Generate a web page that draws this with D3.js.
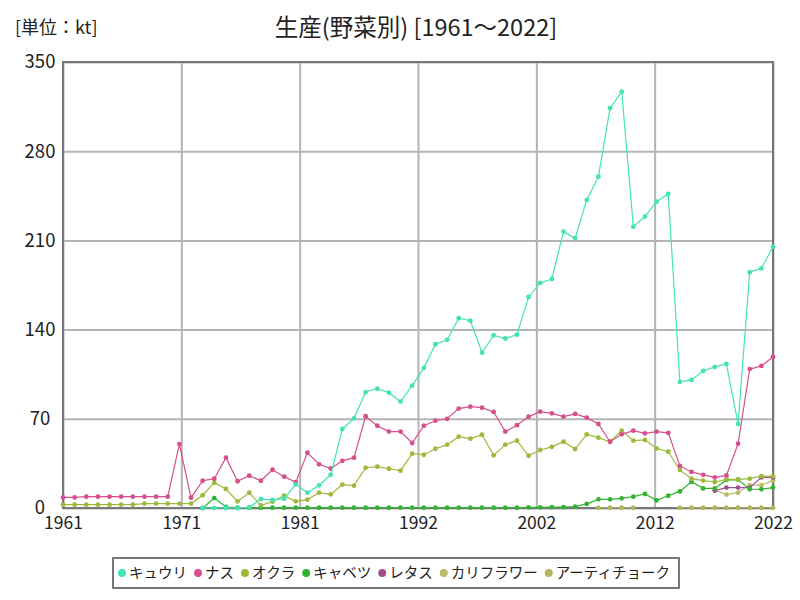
<!DOCTYPE html>
<html><head><meta charset="utf-8">
<script src="https://cdn.jsdelivr.net/npm/d3@7"></script>
<style>
html,body{margin:0;padding:0;background:#fff;}
svg{display:block;font-family:"Noto Sans CJK JP","Noto Sans",sans-serif;}
</style></head>
<body>
<svg id="chart" width="800" height="600"></svg>
<script>
const title = "生産(野菜別) [1961～2022]";
const unitLabel = "[単位：kt]";
const years = d3.range(1961, 2023);
const seriesNames = ["キュウリ","ナス","オクラ","キャベツ","レタス","カリフラワー","アーティチョーク"];
const seriesColors = ["#42e4b6","#d6508e","#9dba3c","#33b233","#a0508e","#b8be66","#b3b55e"];
const yTicks = [0,70,140,210,280,350];
const xTickCount = 6;

const N = null;
const cucumber = [N,N,N,N,N,N,N,N,N,N, N,N,0,0,0,0,0.5,7,6.3,7.3,
  18.6,12,17.8,26,62,70.4,91,93.6,90.5,83.5, 96,110,128.5,132,149,147,122,135.5,133,136,
  165.6,176.6,179.7,216.9,211.7,241.8,260,313.7,326.8,220.8, 228.7,240.4,246.5,99,100.5,107.5,110.7,113,66,185,
  188,205];
const eggplant = [8.3,8.3,8.9,8.9,8.9,8.9,8.9,8.9,8.9,8.9, 50.2,8.1,21.4,23,39.5,21,25.4,21.4,30,24.6,
  20.2,43.4,34.3,31,37,39.5,72,64.6,60,60, 51,64.6,68.5,70,78,79.5,78.7,75.4,60,65,
  71.7,75.6,74.3,71.7,73.8,70.9,66,52,57.8,60.7, 58.6,60,59,33,28.3,26,24,25.6,50.5,109,
  111.5,118.5];
const okra = [2.6,2.6,2.6,2.6,2.6,2.6,2.6,3.5,3.5,3.5, 3.5,3.5,10,19.9,14.9,5.2,12,2.1,5,9.7,
  5.2,6.5,12,10.7,18.3,17.5,31.6,32.4,30.8,29.3, 42.6,41.8,46.5,49.7,56,54.4,57.5,41.3,49.7,52.8,
  41,45.5,48,52,46.3,57.8,55.2,52,60.7,52.8, 53.4,46.8,44.2,29.8,23,21.5,20.4,22.5,22.5,23,
  25,25];
const cabbage = [N,N,N,N,N,N,N,N,N,N, N,N,0,7.8,0.8,0.3,0.3,0.3,0.3,0.3,
  0.3,0.3,0.3,0.3,0.3,0.3,0.3,0.3,0.3,0.3, 0.3,0.3,0.3,0.3,0.3,0.3,0.3,0.3,0.3,0.3,
  0.5,0.5,0.7,0.7,1.1,3.2,6.8,6.8,7.6,8.9, 11,6,9.6,13,20.6,15.4,15.4,22,22.3,14.7,
  14.7,16];
const lettuce = [N,N,N,N,N,N,N,N,N,N, N,N,N,N,N,N,N,N,N,N,
  N,N,N,N,N,N,N,N,N,N, N,N,N,N,N,N,N,N,N,N,
  N,N,N,N,N,N,N,N,N,N, N,N,N,N,N,N,13.6,16,16,16,
  24,24];
const cauliflower = [N,N,N,N,N,N,N,N,N,N, N,N,N,N,N,N,N,N,N,N,
  N,N,N,N,N,N,N,N,N,N, N,N,N,N,N,N,N,N,N,N,
  N,N,N,N,N,N,N,N,N,N, N,N,N,N,N,N,14,10.5,12,18,
  18,21.5];
const artichoke = [N,N,N,N,N,N,N,N,N,N, N,N,N,N,N,N,N,N,N,N,
  N,N,N,N,N,N,N,N,N,N, N,N,N,N,N,N,N,N,N,N,
  N,N,N,N,N,N,0.2,0.2,0.2,0.2, N,N,N,0.2,0.2,0.2,0.2,0.2,0.2,0.2,
  0.2,0.2];
const seriesValues = [cucumber,eggplant,okra,cabbage,lettuce,cauliflower,artichoke];

const svg = d3.select("#chart");
const pL = 63, pR = 773, pT = 62, pB = 508;
const x = d3.scaleLinear().domain([1961, 2022]).range([pL, pR]);
const y = d3.scaleLinear().domain([0, 350]).range([pB, pT]);
const xTickVals = d3.range(xTickCount + 1).map(i => 1961 + i * (2022 - 1961) / xTickCount);

// grid
const gx = svg.append("g").attr("transform", `translate(0,${pB})`)
  .call(d3.axisBottom(x).tickValues(xTickVals).tickSize(-(pB - pT)).tickFormat(d => Math.round(d)));
gx.select(".domain").remove();
gx.selectAll(".tick line").attr("stroke", "#b4b4b4").attr("stroke-width", 2);
gx.selectAll(".tick text").attr("font-size", 17.5).attr("fill", "#222").attr("y", 9).attr("dy", "0.71em")
  .attr("font-family", "'Noto Sans CJK JP',sans-serif");

const gy = svg.append("g").attr("transform", `translate(${pL},0)`)
  .call(d3.axisLeft(y).tickValues(yTicks).tickSize(-(pR - pL)).tickFormat(d3.format("d")));
gy.select(".domain").remove();
gy.selectAll(".tick line").attr("stroke", "#b4b4b4").attr("stroke-width", 2);
gy.selectAll(".tick text").attr("font-size", 18.5).attr("fill", "#222")
  .attr("x", 40 - pL).attr("text-anchor", "middle")
  .attr("font-family", "'Noto Sans CJK JP',sans-serif");

// frame
svg.append("rect").attr("x", pL).attr("y", pT).attr("width", pR - pL).attr("height", pB - pT)
  .attr("fill", "none").attr("stroke", "#777").attr("stroke-width", 2);

// lines
const line = d3.line().defined(d => d.v !== null).x(d => x(d.year)).y(d => y(d.v));
const plotG = svg.append("g");
for (let s = seriesNames.length - 1; s >= 0; s--) {
  const pts = years.map((yr, i) => ({year: yr, v: seriesValues[s][i]}));
  plotG.append("path").datum(pts).attr("d", line).attr("fill", "none")
    .attr("stroke", seriesColors[s]).attr("stroke-width", 1.2);
  plotG.selectAll(null).data(pts.filter(d => d.v !== null)).enter().append("circle")
    .attr("cx", d => x(d.year)).attr("cy", d => y(d.v)).attr("r", 2.4).attr("fill", seriesColors[s]);
}

// title & unit
svg.append("text").attr("x", 416).attr("y", 36).attr("text-anchor", "middle")
  .attr("font-size", 23.5).attr("fill", "#222").text(title);
svg.append("text").attr("x", 15).attr("y", 34).attr("font-size", 18).attr("fill", "#222").text(unitLabel);

// legend
const lg = svg.append("g");
const box = lg.append("rect").attr("x", 113).attr("y", 558).attr("height", 30)
  .attr("fill", "#fff").attr("stroke", "#777").attr("stroke-width", 2);
let cx = 122;
seriesNames.forEach((n, i) => {
  lg.append("circle").attr("cx", cx).attr("cy", 573).attr("r", 4).attr("fill", seriesColors[i]);
  const t = lg.append("text").attr("x", cx + 7).attr("y", 578).attr("font-size", 14.5)
    .attr("fill", "#222").text(n);
  const w = t.node().getComputedTextLength();
  cx = cx + 7 + w + 11;
});
box.attr("width", cx - 11 + 9 - 113);
</script>
</body></html>
